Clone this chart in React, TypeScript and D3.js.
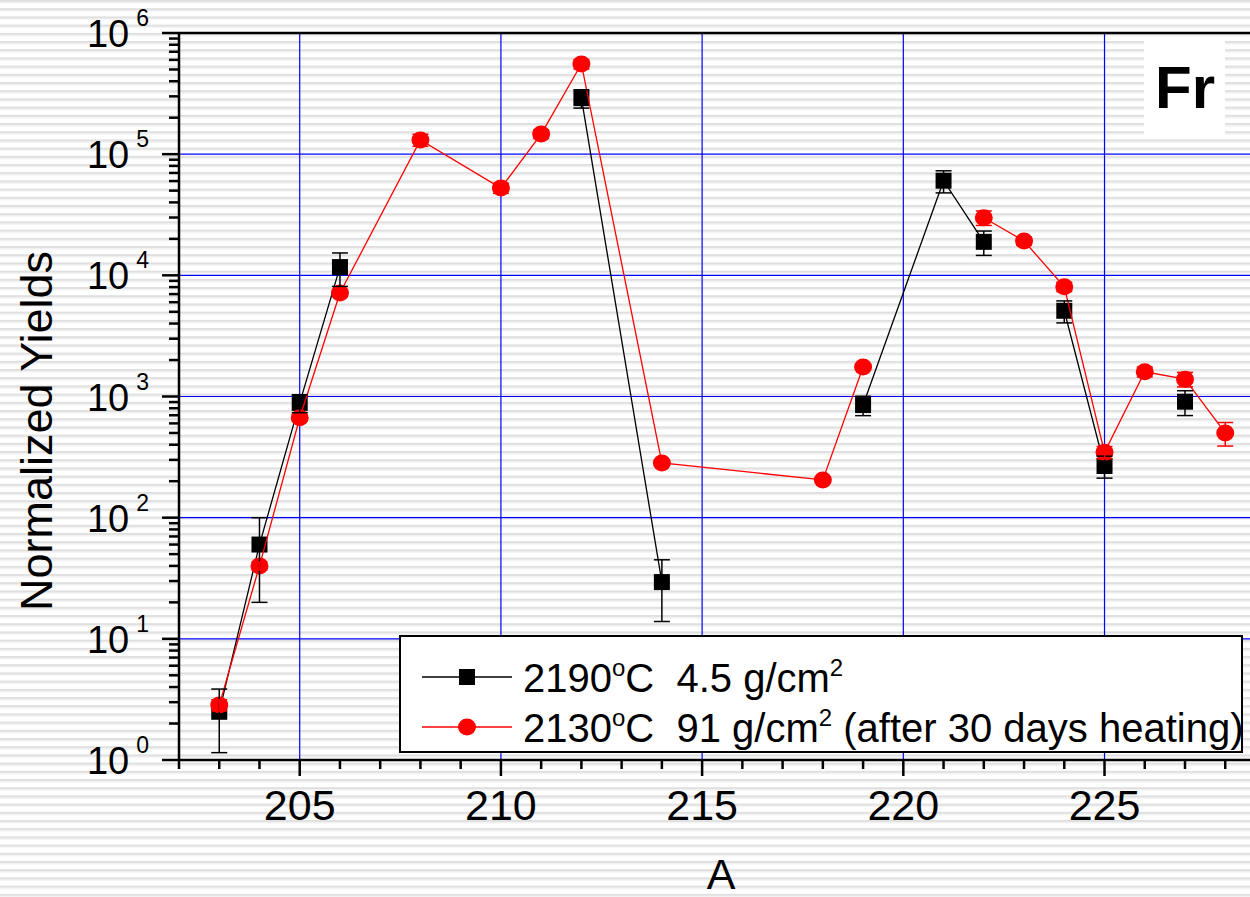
import React, { useEffect, useRef } from "react";
import * as d3 from "d3";

// 2190 C, 4.5 g/cm2 (null = break in the line)
const A_BLACK = [203, 204, 205, 206, null, 212, 214, null, 219, 221, 222, null, 224, 225, null, 227];
const Y_BLACK = [2.5, 60, 885, 11700, null, 290000, 29.4, null, 850, 60400, 18900, null, 5100, 267, null, 906];
const ERR_BLACK = [1.35, 40, 150, 3600, null, 50000, 15.5, null, 155, 12500, 4300, null, 1050, 55, null, 210];

// 2130 C, 91 g/cm2 after 30 days heating
const A_RED = [203, 204, 205, 206, 208, 210, 211, 212, 214, 218, 219, null, 222, 223, 224, 225, 226, 227, 228];
const Y_RED = [2.84, 40, 667, 7150, 131000, 52500, 146600, 555000, 283, 205, 1750, null, 29900, 19200, 8050, 346, 1600, 1390, 500];
const ERR_RED = [0.3, 3, 40, 500, 15000, 5000, 12000, 50000, 15, 10, 100, null, 4100, 1500, 700, 40, 150, 190, 110];

const X_MAJOR = [205, 210, 215, 220, 225];
const Y_MAJOR_EXP = [0, 1, 2, 3, 4, 5, 6];

type Pt = { a: number | null; v: number | null; e: number | null };

const zip = (a: (number | null)[], v: (number | null)[], e: (number | null)[]): Pt[] =>
  a.map((d, i) => ({ a: d, v: v[i], e: e[i] }));

export default function App() {
  const svgRef = useRef<SVGSVGElement | null>(null);

  useEffect(() => {
    document.body.style.margin = "0";
    if (!svgRef.current) return;
    const svg = d3.select(svgRef.current);
    svg.selectAll("*").remove();

    const W = 1250;
    const H = 897;
    const left = 179;
    const top = 33;
    const bottom = 760;
    const font = "'Liberation Sans', Arial, sans-serif";

    // striped background
    const defs = svg.append("defs");
    const pat = defs
      .append("pattern")
      .attr("id", "stripes")
      .attr("patternUnits", "userSpaceOnUse")
      .attr("width", 20)
      .attr("height", 8.2);
    pat.append("rect").attr("width", 20).attr("height", 8.2).attr("fill", "#ffffff");
    pat.append("rect").attr("y", 0).attr("width", 20).attr("height", 2).attr("fill", "#e0e0e0");
    pat.append("rect").attr("y", 2).attr("width", 20).attr("height", 1.2).attr("fill", "#eeeeee");
    svg.append("rect").attr("width", W).attr("height", H).attr("fill", "url(#stripes)");

    const x = d3.scaleLinear().domain([202, 228]).range([left, left + 26 * 40.24]);
    const y = d3.scaleLog().domain([1, 1e6]).range([bottom, top]);

    // grid
    const grid = svg.append("g").attr("stroke", "#0000ff").attr("stroke-width", 1.2);
    X_MAJOR.forEach((a) => {
      grid.append("line").attr("x1", x(a)).attr("x2", x(a)).attr("y1", top).attr("y2", bottom);
    });
    Y_MAJOR_EXP.slice(1, 6).forEach((p) => {
      grid.append("line").attr("x1", left).attr("x2", W).attr("y1", y(10 ** p)).attr("y2", y(10 ** p));
    });

    // "Fr" label
    svg.append("rect").attr("x", 1144).attr("y", 41).attr("width", 81).attr("height", 95).attr("fill", "#fff");
    svg
      .append("text")
      .attr("x", 1155)
      .attr("y", 108)
      .attr("font-family", font)
      .attr("font-weight", "bold")
      .attr("font-size", 60)
      .text("Fr");

    // axes
    const ax = svg.append("g").attr("stroke", "#000").attr("stroke-width", 2.5);
    ax.append("line").attr("x1", left).attr("x2", W).attr("y1", top).attr("y2", top);
    ax.append("line").attr("x1", left).attr("x2", W).attr("y1", bottom).attr("y2", bottom);
    ax.append("line").attr("x1", left).attr("x2", left).attr("y1", top - 1).attr("y2", bottom + 1);

    d3.range(202, 229).forEach((a) => {
      const major = a % 5 === 0;
      ax.append("line")
        .attr("x1", x(a))
        .attr("x2", x(a))
        .attr("y1", bottom)
        .attr("y2", bottom + (major ? 16 : 9));
    });
    Y_MAJOR_EXP.forEach((p) => {
      ax.append("line").attr("x1", left - 17).attr("x2", left).attr("y1", y(10 ** p)).attr("y2", y(10 ** p));
      if (p < 6) {
        d3.range(2, 10).forEach((m) => {
          const v = m * 10 ** p;
          ax.append("line").attr("x1", left - 10).attr("x2", left).attr("y1", y(v)).attr("y2", y(v));
        });
      }
    });

    X_MAJOR.forEach((a) => {
      svg
        .append("text")
        .attr("x", x(a))
        .attr("y", 820)
        .attr("text-anchor", "middle")
        .attr("font-family", font)
        .attr("font-size", 43)
        .text(String(a));
    });
    Y_MAJOR_EXP.forEach((p) => {
      const t = svg
        .append("text")
        .attr("x", 149)
        .attr("y", y(10 ** p) + 14)
        .attr("text-anchor", "end")
        .attr("font-family", font)
        .attr("font-size", 38);
      t.append("tspan").text("10");
      t.append("tspan").attr("dy", -21).attr("dx", 7).attr("font-size", 23).text(String(p));
    });

    svg
      .append("text")
      .attr("x", 721)
      .attr("y", 889)
      .attr("text-anchor", "middle")
      .attr("font-family", font)
      .attr("font-size", 43)
      .text("A");
    svg
      .append("text")
      .attr("transform", "translate(52,431) rotate(-90)")
      .attr("text-anchor", "middle")
      .attr("font-family", font)
      .attr("font-size", 45)
      .text("Normalized Yields");

    // data
    const black = zip(A_BLACK, Y_BLACK, ERR_BLACK);
    const red = zip(A_RED, Y_RED, ERR_RED);
    const line = d3
      .line<Pt>()
      .defined((d) => d.a != null && d.v != null)
      .x((d) => x(d.a as number))
      .y((d) => y(d.v as number));

    const plot = svg.append("g");
    const drawLine = (data: Pt[], color: string) =>
      plot.append("path").datum(data).attr("fill", "none").attr("stroke", color).attr("stroke-width", 1.3).attr("d", line);

    const valid = (data: Pt[]) => data.filter((d) => d.a != null && d.v != null);

    drawLine(black, "#000");
    valid(black).forEach((d) => {
      plot
        .append("rect")
        .attr("x", x(d.a as number) - 8)
        .attr("y", y(d.v as number) - 8)
        .attr("width", 16)
        .attr("height", 16)
        .attr("fill", "#000");
    });
    drawLine(red, "#ff0000");
    valid(red).forEach((d) => {
      plot
        .append("ellipse")
        .attr("cx", x(d.a as number))
        .attr("cy", y(d.v as number))
        .attr("rx", 9)
        .attr("ry", 8.5)
        .attr("fill", "#ff0000");
    });

    const drawErr = (data: Pt[], color: string) => {
      valid(data).forEach((d) => {
        const cx = x(d.a as number);
        const v = d.v as number;
        const e = (d.e as number) || 0;
        const y1 = y(v + e);
        const y2 = y(Math.max(v - e, 1.01));
        const g = plot.append("g").attr("stroke", color).attr("stroke-width", 1.5);
        g.append("line").attr("x1", cx).attr("x2", cx).attr("y1", y1).attr("y2", y2);
        g.append("line").attr("x1", cx - 8).attr("x2", cx + 8).attr("y1", y1).attr("y2", y1);
        g.append("line").attr("x1", cx - 8).attr("x2", cx + 8).attr("y1", y2).attr("y2", y2);
      });
    };
    drawErr(black, "#000");
    drawErr(red, "#ff0000");

    // legend
    const lg = svg.append("g");
    lg.append("rect")
      .attr("x", 400)
      .attr("y", 636)
      .attr("width", 842)
      .attr("height", 116)
      .attr("fill", "#fff")
      .attr("stroke", "#000")
      .attr("stroke-width", 2);
    const rows = [
      { color: "#000", y: 677, temp: "2190", rest: "C  4.5 g/cm", tail: "" },
      { color: "#ff0000", y: 727, temp: "2130", rest: "C  91 g/cm", tail: " (after 30 days heating)" },
    ];
    rows.forEach((r, i) => {
      lg.append("line").attr("x1", 422).attr("x2", 512).attr("y1", r.y).attr("y2", r.y).attr("stroke", r.color).attr("stroke-width", 1.3);
      if (i === 0) {
        lg.append("rect").attr("x", 459).attr("y", r.y - 8).attr("width", 16).attr("height", 16).attr("fill", r.color);
      } else {
        lg.append("ellipse").attr("cx", 467).attr("cy", r.y).attr("rx", 9).attr("ry", 8.5).attr("fill", r.color);
      }
      const t = lg
        .append("text")
        .attr("x", 523)
        .attr("y", r.y + 15)
        .attr("font-family", font)
        .attr("font-size", 40)
        .style("white-space", "pre");
      t.append("tspan").text(r.temp);
      t.append("tspan").attr("dy", -16).attr("font-size", 24).text("o");
      t.append("tspan").attr("dy", 16).text(r.rest);
      t.append("tspan").attr("dy", -16).attr("font-size", 24).text("2");
      if (r.tail) t.append("tspan").attr("dy", 16).text(r.tail);
    });
  }, []);

  return <svg ref={svgRef} width={1250} height={897} style={{ display: "block" }} />;
}
